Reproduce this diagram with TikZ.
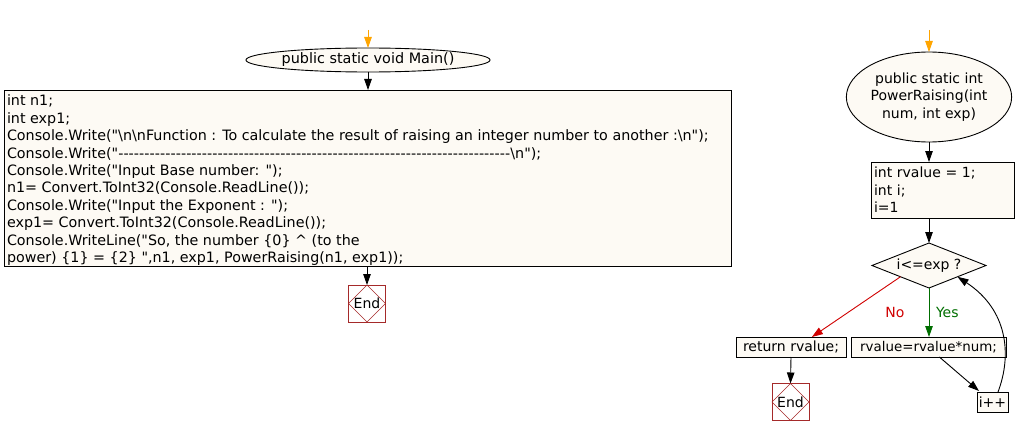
\documentclass[tikz,border=0pt]{standalone}
\usepackage{fontspec}
\setmainfont{DejaVu Sans}[Ligatures=TeXOff]
\usetikzlibrary{arrows.meta,shapes.geometric,calc}
\definecolor{boxfill}{HTML}{FDFAF4}
\definecolor{endred}{HTML}{A52A2A}
\definecolor{startorange}{HTML}{FFA500}
\definecolor{yesgreen}{HTML}{006E00}
\definecolor{nored}{HTML}{D00000}
\newcommand{\bsl}{\textbackslash}
\newcommand{\dashfill}[1]{\hbox to #1{\xleaders\hbox{-}\hfill}}
\begin{document}
\begin{tikzpicture}[x=1pt,y=-1pt,
  font=\fontsize{14}{17.5}\selectfont,
  line width=0.9pt,
  every node/.style={inner sep=0pt, outer sep=0pt},
  proc/.style={draw=black, fill=boxfill, rectangle},
  term/.style={draw=black, fill=boxfill, ellipse},
  cond/.style={draw=black, fill=boxfill, diamond, aspect=2.5},
  endbox/.style={draw=endred, fill=white, rectangle, minimum width=37pt, minimum height=37pt},
  flow/.style={draw=black, -{Triangle[length=11pt,width=7.5pt]}},
  entry/.style={draw=startorange, -{Triangle[length=11pt,width=7.5pt]}}]
\useasboundingbox (0,0) rectangle (1021,436);

% ---- Main ----
\coordinate (mstart) at (368,30);
\node[term, minimum width=197pt, minimum height=24pt, font=\fontsize{14.4}{17.5}\selectfont] (main) at (368,60) {public static void Main()};
\node[proc, anchor=north west, minimum width=727pt, minimum height=176pt] (code) at (4,90) {};
\node[anchor=north west, align=left, font=\fontsize{14.3}{17.4}\selectfont] (codetext) at (7,95) {int n1;\\
int exp1;\\
Console.Write("\bsl n\bsl nFunction : To calculate the result of raising an integer number to another :\bsl n");\\
Console.Write("\dashfill{392pt}\bsl n");\\
Console.Write("Input Base number: ");\\
n1= Convert.ToInt32(Console.ReadLine());\\
Console.Write("Input the Exponent : ");\\
exp1= Convert.ToInt32(Console.ReadLine());\\
Console.WriteLine("So, the number \{0\} \textasciicircum{} (to the\\
power) \{1\} = \{2\} ",n1, exp1, PowerRaising(n1, exp1));};
\node[endbox] (end1) at (367,303.5) {End};
\draw[endred, line width=0.6pt] (end1.north) -- (end1.east) -- (end1.south) -- (end1.west) -- cycle;

\draw[entry] (mstart) -- (main.north);
\draw[flow] (main.south) -- (main.south |- code.north);
\draw[flow] (code.south -| end1.north) -- (end1.north);

% ---- PowerRaising ----
\coordinate (pstart) at (929,30);
\node[term, minimum width=154pt, minimum height=90pt, align=center] (pr) at (929,97) {public static int\\PowerRaising(int\\num, int exp)};
\node[proc, anchor=north west, minimum width=143pt, minimum height=56pt, text width=137pt, align=left, inner xsep=3pt] (init) at (871,162) {int rvalue = 1;\\int i;\\i=1};
\node[cond, minimum width=114pt, minimum height=45pt] (cond) at (929,265.5) {i<=exp ?};
\node[proc, minimum width=155pt, minimum height=20pt, font=\fontsize{13.4}{16}\selectfont] (rv) at (928.5,347) {rvalue=rvalue*num;};
\node[proc, minimum width=110pt, minimum height=20pt] (ret) at (791,347) {return rvalue;};
\node[proc, minimum width=31pt, minimum height=20pt] (ipp) at (992.5,402) {i++};
\node[endbox] (end2) at (790.5,402) {End};
\draw[endred, line width=0.6pt] (end2.north) -- (end2.east) -- (end2.south) -- (end2.west) -- cycle;

\draw[entry] (pstart) -- (pr.north);
\draw[flow] (pr.south) -- (pr.south |- init.north);
\draw[flow] (init.south -| cond.north) -- (cond.north);
\draw[draw=yesgreen, -{Triangle[length=11pt,width=7.5pt]}] (cond.south) -- (cond.south |- rv.north);
\node[text=yesgreen, anchor=west] (yes) at (936,312) {Yes};
\draw[draw=nored, -{Triangle[length=11pt,width=7.5pt]}] (cond.south west) -- ($(ret.north)!0.38!(ret.north east)$);
\node[text=nored] (no) at (895,312) {No};
\draw[flow] (ret.south) -- (end2.north);
\draw[flow] ($(rv.south west)!0.57!(rv.south east)$) -- ($(ipp.north west)+(2,-1)$);
\draw[flow] ($(ipp.north)+(5.5,0)$) .. controls (1012,355) and (1008,310) .. (cond.south east);
\end{tikzpicture}
\end{document}
